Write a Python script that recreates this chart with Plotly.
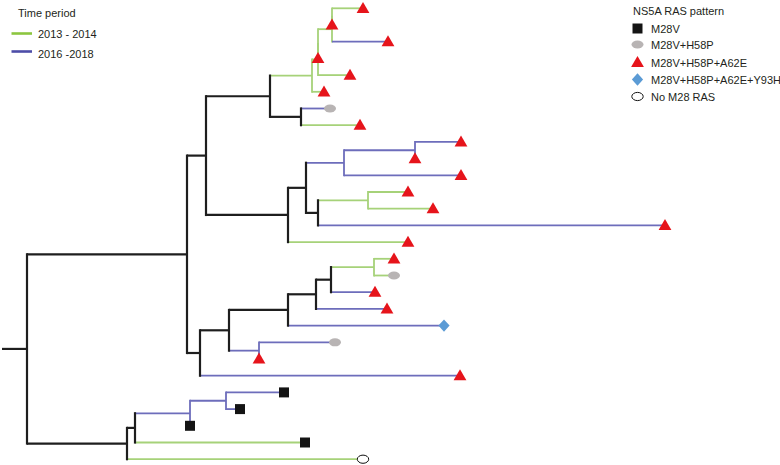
import plotly.graph_objects as go

# ---------------- DATA ----------------
# Internal nodes of the tree: name, parent, depth (divergence from root, arbitrary units), period
NODE_NAME = ["R", "N187", "N127", "N206", "N200", "N270", "C2", "N313", "N301", "N318", "W",
             "N332", "Y", "N306", "N344", "N415", "N318b", "N368", "N229", "N288", "N316",
             "N331", "N374", "N259", "N135", "N190", "N226"]
NODE_PARENT = [None, "R", "R", "N187", "N187", "N206", "N206", "N270", "N270", "N313", "N318",
               "W", "N332", "C2", "N306", "N344", "N306", "N318b", "N200", "N229", "N288",
               "N316", "N331", "N229", "N127", "N135", "N190"]
NODE_DEPTH = [0, 160, 100, 179, 173, 243, 261, 285, 274, 291, 291,
              305, 305, 279, 317, 388, 291, 341, 202, 261, 289,
              304, 347, 232, 108, 163, 199]
NODE_PERIOD = ["anc", "anc", "anc", "anc", "anc", "anc", "anc", "old", "anc", "old", "old",
               "old", "old", "anc", "new", "new", "anc", "old", "anc", "anc", "anc",
               "anc", "old", "new", "anc", "new", "new"]

# Tips, listed top to bottom
TIP_PARENT = ["Y", "Y", "N332", "W", "N318", "N313", "N301", "N301", "N415", "N415",
              "N344", "N368", "N368", "N318b", "C2", "N374", "N374", "N331", "N316", "N288",
              "N259", "N259", "N200", "N226", "N226", "N190", "N135", "N127"]
TIP_DEPTH = [336, 305, 361, 291, 323, 297, 303, 333, 434, 388,
             434, 381, 406, 638, 381, 367, 367, 348, 360, 417,
             308, 232, 433, 257, 213, 163, 278, 336]
TIP_PERIOD = ["old", "old", "new", "old", "old", "old", "new", "old", "new", "new",
              "new", "old", "old", "new", "old", "old", "old", "new", "new", "new",
              "new", "new", "new", "new", "new", "new", "old", "old"]
TRI = "M28V+H58P+A62E"
TIP_RAS = [TRI, TRI, TRI, TRI, TRI, TRI, "M28V+H58P", TRI, TRI, TRI,
           TRI, TRI, TRI, TRI, TRI, TRI, "M28V+H58P", TRI, TRI, "M28V+H58P+A62E+Y93H",
           "M28V+H58P", TRI, TRI, "M28V", "M28V", "M28V", "M28V", "No M28 RAS"]
ROOT_STUB = 25

PERIOD_LABELS = ["2013 - 2014", "2016 -2018"]
PERIOD_KEYS = ["old", "new"]
RAS_LABELS = ["M28V", "M28V+H58P", "M28V+H58P+A62E", "M28V+H58P+A62E+Y93H", "No M28 RAS"]

# ---------------- STYLE ----------------
FONT = "Liberation Sans, Arial, sans-serif"
TXT = "#231f20"
LINE_COL = {"anc": "#1e1e1e", "old": "#a6d279", "new": "#6d6dbb"}
LINE_W = {"anc": 2.2, "old": 1.8, "new": 1.8}
LEG_COL = {"old": "#8cc63f", "new": "#4d4da8"}
W, H = 780, 465
X_RANGE = [-27, W - 27]
Y_RANGE = [27.347, -0.497]
PX_PER_Y = H / (Y_RANGE[0] - Y_RANGE[1])

# ---------------- LAYOUT OF THE TREE ----------------
depth = dict(zip(NODE_NAME, NODE_DEPTH))
parent = dict(zip(NODE_NAME, NODE_PARENT))
period = dict(zip(NODE_NAME, NODE_PERIOD))
children = {n: [] for n in NODE_NAME}
ypos = {}
for i, p in enumerate(TIP_PARENT):
    name = f"T{i}"
    depth[name] = TIP_DEPTH[i]
    parent[name] = p
    period[name] = TIP_PERIOD[i]
    ypos[name] = i
    children[p].append(name)
for n, p in zip(NODE_NAME, NODE_PARENT):
    if p is not None:
        children[p].append(n)


def get_y(n):
    if n in ypos:
        return ypos[n]
    ys = [get_y(c) for c in children[n]]
    ypos[n] = (min(ys) + max(ys)) / 2
    return ypos[n]


get_y("R")

segs = {k: ([], []) for k in LINE_COL}
for n in depth:
    k = period[n]
    xs, ys = segs[k]
    if parent[n] is not None:
        xs += [depth[parent[n]], depth[n], None]
        ys += [ypos[n], ypos[n], None]
    if n in children and children[n]:
        cy = [ypos[c] for c in children[n]]
        ext = LINE_W[k] / 2 / PX_PER_Y
        xs += [depth[n], depth[n], None]
        ys += [min(cy) - ext, max(cy) + ext, None]
# root stub
segs["anc"][0].extend([depth["R"] - ROOT_STUB, depth["R"], None])
segs["anc"][1].extend([ypos["R"], ypos["R"], None])

fig = go.Figure()
for k in ["old", "new", "anc"]:
    xs, ys = segs[k]
    fig.add_trace(go.Scatter(x=xs, y=ys, mode="lines", hoverinfo="skip", showlegend=False,
                             line=dict(color=LINE_COL[k], width=LINE_W[k])))


# ---------------- MARKERS (pixel-sized shapes anchored at data points) ----------------
def marker_shape(kind, x, y, xref, yref):
    c = dict(xref=xref, yref=yref, xsizemode="pixel", ysizemode="pixel",
             xanchor=x, yanchor=y, layer="above")
    if kind == "M28V":
        return dict(type="rect", x0=-5, x1=5, y0=-5, y1=5, fillcolor="#141414",
                    line=dict(width=0), **c)
    if kind == "M28V+H58P":
        return dict(type="circle", x0=-6, x1=6, y0=-4, y1=4, fillcolor="#b8b4b4",
                    line=dict(width=0), **c)
    if kind == "M28V+H58P+A62E":
        return dict(type="path", path="M -6.4 -4.6 L 6.4 -4.6 L 0 6.4 Z",
                    fillcolor="#e6141b", line=dict(width=0), **c)
    if kind == "M28V+H58P+A62E+Y93H":
        return dict(type="path", path="M 0 6.2 L 5.6 0 L 0 -6.2 L -5.6 0 Z",
                    fillcolor="#5b9bd5", line=dict(width=0), **c)
    return dict(type="circle", x0=-5.7, x1=5.7, y0=-4.1, y1=4.1, fillcolor="white",
                line=dict(color="#111111", width=1), **c)


shapes = []
for i in range(len(TIP_PARENT)):
    shapes.append(marker_shape(TIP_RAS[i], depth[f"T{i}"], ypos[f"T{i}"], "x", "y"))

# ---------------- LEGENDS (placed in pixel positions of the page) ----------------
annotations = []


def px(xp):
    return xp / W


def py(yp):
    return 1 - yp / H


def label(text, x, y):
    annotations.append(dict(text=text, x=px(x), y=py(y), xref="paper", yref="paper",
                            xanchor="left", yanchor="middle", showarrow=False,
                            font=dict(family=FONT, size=11, color=TXT)))


label("Time period", 16, 13)
for j, (k, lab) in enumerate(zip(PERIOD_KEYS, PERIOD_LABELS)):
    ly = [33.5, 51.5][j]
    shapes.append(dict(type="line", xref="paper", yref="paper", x0=px(11.5), x1=px(32),
                       y0=py(ly), y1=py(ly), line=dict(color=LEG_COL[k], width=2.6)))
    label(lab, 36, [34, 54.5][j])

label("NS5A RAS pattern", 631, 11)
leg_y = [28.5, 44.5, 62.5, 79.5, 96.5]
for j, lab in enumerate(RAS_LABELS):
    shapes.append(marker_shape(lab, px(637.5), py(leg_y[j]), "paper", "paper"))
    label(lab, 649, leg_y[j] + 0.5)

fig.update_layout(
    width=W, height=H, margin=dict(l=0, r=0, t=0, b=0),
    paper_bgcolor="white", plot_bgcolor="white",
    xaxis=dict(range=X_RANGE, visible=False, fixedrange=True),
    yaxis=dict(range=Y_RANGE, visible=False, fixedrange=True),
    shapes=shapes, annotations=annotations, showlegend=False,
)
fig.write_html("out.html", config={"displayModeBar": False},
               post_script="document.body.style.margin='0';"
                           "document.body.style.overflow='hidden';")
